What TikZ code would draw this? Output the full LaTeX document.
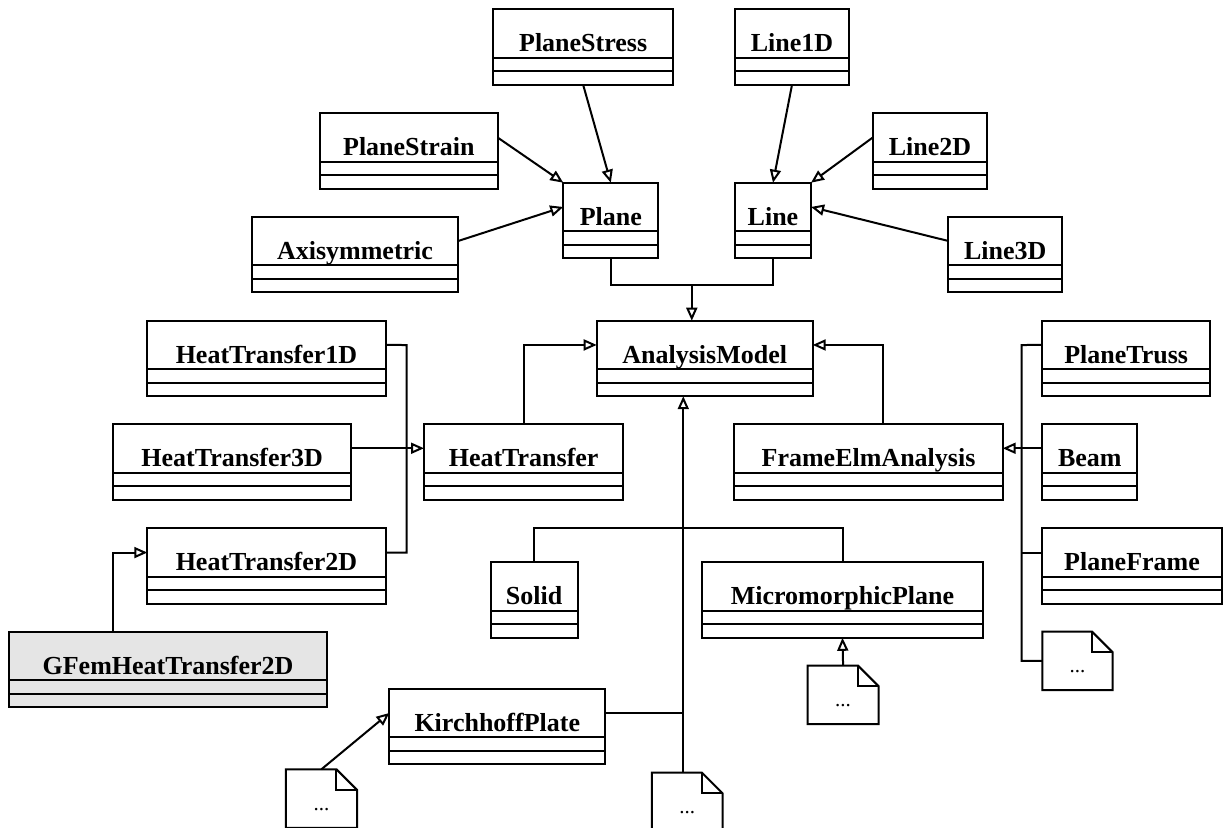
\documentclass[tikz,border=0pt]{standalone}
\usepackage{fontspec}
\setmainfont{Liberation Serif}
\usetikzlibrary{arrows.meta,calc}
\definecolor{gfill}{HTML}{E5E5E5}
\tikzset{
  umlcls/.style={draw, line width=1pt, inner sep=0pt, outer sep=0pt, minimum height=37.75pt},
  compline/.style={line width=1pt},
  clsname/.style={anchor=base, inner sep=0pt, font=\bfseries\fontsize{13}{15}\selectfont},
  notebox/.style={inner sep=0pt, outer sep=0pt, minimum height=29.25pt},
  notepath/.style={line width=1pt, line join=miter},
  notetext/.style={anchor=base, inner sep=0pt, font=\fontsize{10.5}{12}\selectfont},
  conn/.style={line width=1pt},
  inh/.style={line width=1pt, -{Triangle[open,length=6.5pt,width=5.5pt,line width=1pt]}},
}
\newcommand{\umlclass}[6][white]{%
  \node[umlcls, fill=#1, minimum width={(#5-#3)*0.5pt}, anchor=north west] (#2) at (#3,#4) {};
  \draw[compline] ([yshift=-24.25pt]#2.north west) -- ([yshift=-24.25pt]#2.north east);
  \draw[compline] ([yshift=-31pt]#2.north west) -- ([yshift=-31pt]#2.north east);
  \coordinate (#2-w) at ([yshift=-12.125pt]#2.north west);
  \coordinate (#2-e) at ([yshift=-12.125pt]#2.north east);
  \node[clsname] (#2-t) at ([yshift=-21.25pt]#2.north) {#6};
}
\newcommand{\umlnote}[4]{%
  \node[notebox, minimum width={(#4-#2)*0.5pt}, anchor=north west] (#1) at (#2,#3) {};
  \draw[notepath] (#1.north west) -- ([xshift=-10.3pt]#1.north east) -- ([yshift=-10.3pt]#1.north east) -- (#1.south east) -- (#1.south west) -- cycle;
  \draw[notepath] ([xshift=-10.3pt]#1.north east) |- ([yshift=-10.3pt]#1.north east);
  \node[notetext] (#1-t) at ([yshift=-20.5pt]#1.north) {...};
}
\begin{document}
\begin{tikzpicture}[x=0.5pt,y=-0.5pt]
\useasboundingbox (0,0) rectangle (1228,827);
% classes
\umlclass{pstress}{493.3}{9.3}{673}{PlaneStress}
\umlclass{line1d}{735}{9.3}{849}{Line1D}
\umlclass{pstrain}{320}{113.3}{497.7}{PlaneStrain}
\umlclass{line2d}{872.7}{113.3}{987.3}{Line2D}
\umlclass{axisym}{251.7}{216.7}{458.3}{Axisymmetric}
\umlclass{line3d}{948.3}{216.7}{1062.3}{Line3D}
\umlclass{plane}{563.3}{182.7}{658.3}{Plane}
\umlclass{line}{735}{182.7}{811}{Line}
\umlclass{ht1d}{147.3}{320.7}{385.7}{HeatTransfer1D}
\umlclass{am}{596.7}{320.7}{812.7}{AnalysisModel}
\umlclass{ptruss}{1042.3}{320.7}{1210}{PlaneTruss}
\umlclass{ht3d}{113.3}{424}{351}{HeatTransfer3D}
\umlclass{ht}{424}{424}{623.3}{HeatTransfer}
\umlclass{fea}{734.3}{424}{1002.7}{FrameElmAnalysis}
\umlclass{beam}{1042.3}{424}{1137.3}{Beam}
\umlclass{ht2d}{147.3}{528.3}{385.7}{HeatTransfer2D}
\umlclass{pframe}{1042.3}{528.3}{1221.7}{PlaneFrame}
\umlclass{solid}{490.6}{562.3}{577.5}{Solid}
\umlclass{micro}{701.7}{562.3}{983.3}{MicromorphicPlane}
\umlclass[gfill]{gfem}{9.3}{631.7}{326.7}{GFemHeatTransfer2D}
\umlclass{kirch}{389.4}{688.7}{605.2}{KirchhoffPlate}
% notes
\umlnote{n1}{1042.3}{631.7}{1112.7}
\umlnote{n2}{807.5}{665.7}{878.7}
\umlnote{n3}{285.8}{769.3}{357}
\umlnote{n4}{651.8}{772.7}{722.6}
% junction coordinates
\coordinate (j1) at (691.8,285);
\coordinate (sp) at (683.3,772.7);
\coordinate (fsp) at (1021.7,345);
\coordinate (hsp) at (406.7,345);
% top group
\draw[inh] (pstress.south) -- (plane.north);
\draw[inh] (pstrain-e) -- (plane.north west);
\draw[inh] (axisym-e) -- (plane-w);
\draw[inh] (line1d.south) -- (line.north);
\draw[inh] (line2d-w) -- (line.north east);
\draw[inh] (line3d-w) -- (line-e);
\draw[conn] (plane.south) |- (j1) -| (line.south);
\draw[inh] (j1) -- (j1 |- am.north);
% heat transfer group
\draw[inh] (ht.north) |- (am-w);
\draw[conn] (ht1d-e) -- (hsp) |- (ht2d-e);
\draw[inh] (ht3d-e) -- (ht-w);
\draw[inh] (gfem.north -| ht3d.west) |- (ht2d-w);
% frame group
\draw[inh] ([xshift=7.1pt]fea.north) |- (am-e);
\draw[conn] (ptruss-w) -- (fsp) |- (n1.west);
\draw[conn] (fsp |- pframe-w) -- (pframe-w);
\draw[inh] (beam-w) -- (fea-e);
% central spine
\draw[inh] (sp) -- (sp |- am.south);
\draw[conn] (solid.north) -- ++(0,-34) -| (micro.north);
\draw[conn] (kirch-e) -- (kirch-e -| sp);
\draw[inh] (n2.north) -- (micro.south);
\draw[inh] (n3.north) -- (kirch-w);
\end{tikzpicture}
\end{document}
